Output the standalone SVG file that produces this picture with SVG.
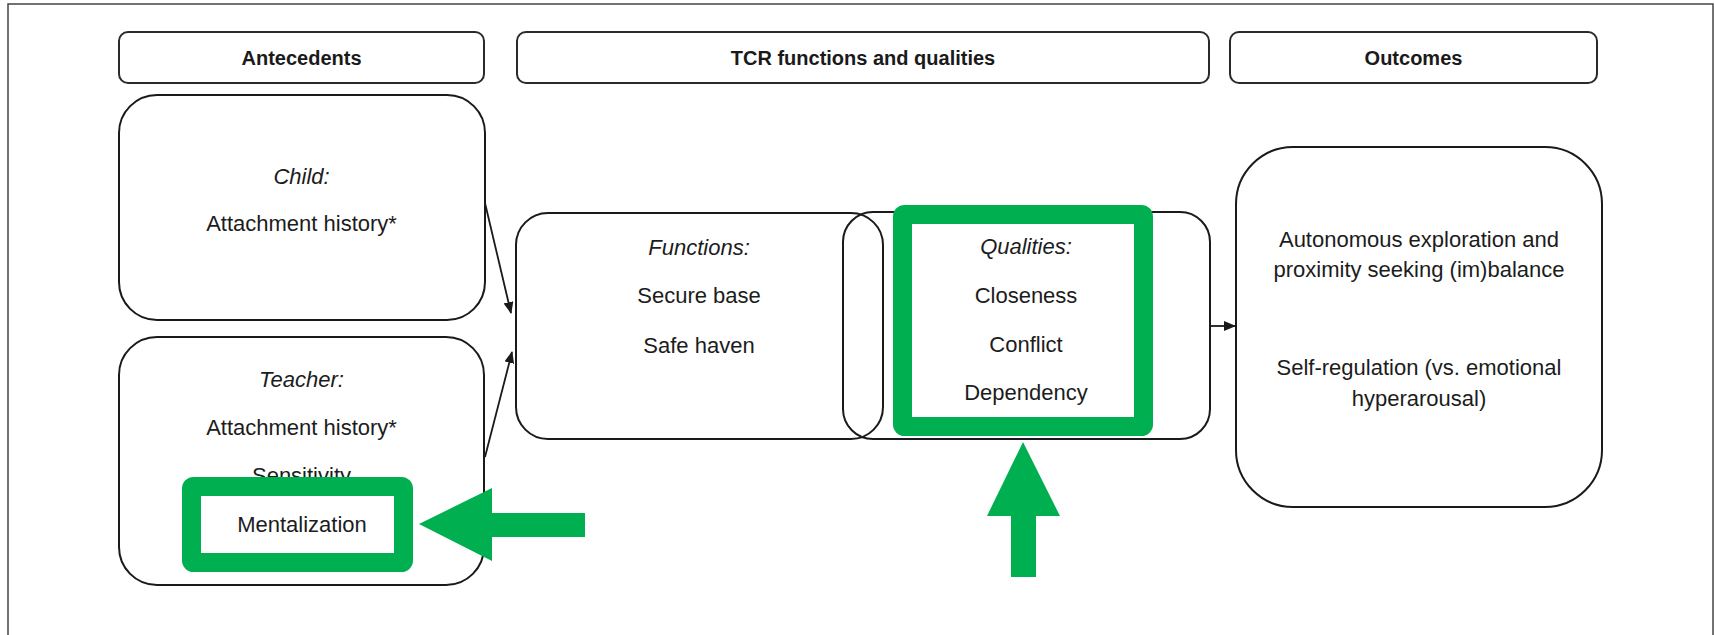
<svg xmlns="http://www.w3.org/2000/svg" width="1715" height="635" viewBox="0 0 1715 635">
  <style>
    .box { fill: #ffffff; stroke: #1a1a1a; stroke-width: 2; }
    .hdr { fill: #ffffff; stroke: #2a2a2a; stroke-width: 2; }
    .t { font-family: "Liberation Sans", Arial, sans-serif; font-size: 22px; fill: #1c1c1c; text-anchor: middle; }
    .i { font-style: italic; }
    .h { font-family: "Liberation Sans", Arial, sans-serif; font-size: 20px; font-weight: bold; fill: #1a1a1a; text-anchor: middle; }
    .hl { fill: #ffffff; stroke: #00B050; stroke-width: 19; }
    .garrow { fill: #00B050; }
    .conn { stroke: #1a1a1a; stroke-width: 1.8; fill: none; }
  </style>
  <defs>
    <marker id="ah" markerWidth="12" markerHeight="10" refX="11" refY="5" orient="auto" markerUnits="userSpaceOnUse">
      <path d="M0,0 L12,5 L0,10 Z" fill="#1a1a1a"/>
    </marker>
  </defs>
  <rect width="1715" height="635" fill="#ffffff"/>
  <rect x="8" y="4" width="1705" height="660" fill="none" stroke="#444444" stroke-width="1.5"/>

  <g id="header-antecedents">
    <rect class="hdr" x="119" y="32" width="365" height="51" rx="9"/>
    <text class="h" x="301.5" y="65">Antecedents</text>
  </g>
  <g id="header-tcr">
    <rect class="hdr" x="517" y="32" width="692" height="51" rx="9"/>
    <text class="h" x="863" y="65">TCR functions and qualities</text>
  </g>
  <g id="header-outcomes">
    <rect class="hdr" x="1230" y="32" width="367" height="51" rx="9"/>
    <text class="h" x="1413.5" y="65">Outcomes</text>
  </g>

  <g id="node-child">
    <rect class="box" x="119" y="95" width="366" height="225" rx="38"/>
    <text class="t i" x="301.5" y="184">Child:</text>
    <text class="t" x="301.5" y="231">Attachment history*</text>
  </g>

  <g id="node-teacher">
    <rect class="box" x="119" y="337" width="365" height="248" rx="38"/>
    <text class="t i" x="301.5" y="387">Teacher:</text>
    <text class="t" x="301.5" y="435">Attachment history*</text>
    <text class="t" x="301.5" y="483">Sensitivity</text>
    <g id="highlight-mentalization">
      <rect class="hl" x="191.5" y="486.5" width="212" height="76" rx="2"/>
      <text class="t" x="302" y="532">Mentalization</text>
    </g>
  </g>

  <g id="node-functions">
    <rect class="box" x="516" y="213" width="367" height="226" rx="32" fill-opacity="0"/>
    <text class="t i" x="699" y="255">Functions:</text>
    <text class="t" x="699" y="303">Secure base</text>
    <text class="t" x="699" y="353">Safe haven</text>
  </g>

  <g id="node-qualities">
    <rect x="843" y="212" width="367" height="227" rx="30" fill="none" stroke="#1a1a1a" stroke-width="2"/>
    <g id="highlight-qualities">
      <rect class="hl" x="902.5" y="214.5" width="241" height="212" rx="2"/>
    </g>
    <text class="t i" x="1026" y="254">Qualities:</text>
    <text class="t" x="1026" y="303">Closeness</text>
    <text class="t" x="1026" y="352">Conflict</text>
    <text class="t" x="1026" y="400">Dependency</text>
  </g>

  <g id="node-outcomes">
    <rect class="box" x="1236" y="147" width="366" height="360" rx="57"/>
    <text class="t" x="1419" y="247">Autonomous exploration and</text>
    <text class="t" x="1419" y="277">proximity seeking (im)balance</text>
    <text class="t" x="1419" y="375">Self-regulation (vs. emotional</text>
    <text class="t" x="1419" y="406">hyperarousal)</text>
  </g>

  <g id="connectors">
    <line class="conn" x1="485" y1="203" x2="511" y2="313" marker-end="url(#ah)"/>
    <line class="conn" x1="485" y1="457" x2="512" y2="352" marker-end="url(#ah)"/>
    <line class="conn" x1="1210" y1="326" x2="1235" y2="326" marker-end="url(#ah)"/>
  </g>

  <g id="green-arrows">
    <polygon class="garrow" points="419,524 492,488 492,513 585,513 585,537 492,537 492,561"/>
    <polygon class="garrow" points="1023,442 1060,516 1036,516 1036,577 1011,577 1011,516 987,516"/>
  </g>
</svg>
